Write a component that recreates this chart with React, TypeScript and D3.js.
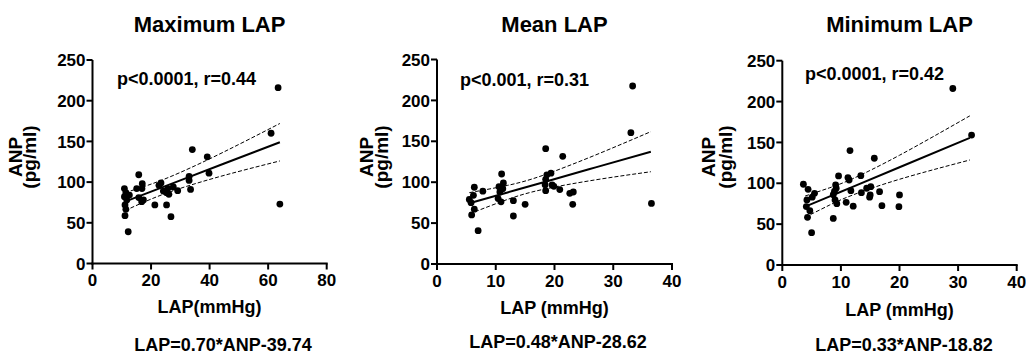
import React from "react";
import * as d3 from "d3";

// ---------- data ----------
const maxLapX = [61, 64, 63.4, 34.1, 39.2, 39.8, 33, 33, 33.5, 29.1, 27.6, 25.3, 25.7, 26.1, 25.3, 26.8, 21.3, 23.4, 22.7, 24.2, 15.8, 15.1, 17, 16.9, 17.4, 16.8, 15.8, 10.9, 11.4, 10.9, 11.7, 11.1, 11.4, 11.1, 12.2, 12.6];
const maxLapY = [160, 73, 216, 140, 131, 111, 107, 102, 91, 89.5, 94, 87, 92, 85, 72, 57.5, 72, 99, 96, 89, 109, 92, 98, 92, 78, 76, 81, 92, 87, 82, 78, 72, 66.6, 58.7, 39, 84];

const meanLapX = [33, 36.5, 33.3, 18.5, 21.4, 19.4, 18.7, 18.5, 18.4, 18.5, 19.6, 20.9, 22.6, 23.2, 23.1, 15, 13, 13, 11, 11.3, 10.55, 10.7, 10.4, 10.9, 7.8, 6.35, 6.2, 5.5, 5.8, 6.35, 5.9, 7, 11.2, 19.9];
const meanLapY = [160.5, 74, 217.6, 141, 131.6, 111, 109, 103.5, 97, 89.6, 96.6, 91, 86.4, 88, 73, 73, 77.4, 58.7, 110, 99, 94.5, 88, 80, 76, 89, 93.8, 84, 79, 75, 67, 60, 40.7, 92, 95];

const minLapX = [32.3, 29.1, 11.55, 15.7, 9.6, 11.2, 11.4, 13.4, 11.7, 13.5, 14.4, 15.1, 15, 14.9, 16.6, 17, 20, 19.9, 12.1, 10.9, 8.7, 9.1, 9.2, 8.9, 8.7, 9, 9.3, 5.5, 5.1, 4.4, 3.6, 4.2, 4.1, 4.7, 4.3, 5];
const minLapY = [159, 216, 140, 130.6, 109, 107, 104, 109.3, 91, 88.5, 93.9, 95.8, 85.7, 83, 89.7, 72.6, 85.7, 71.4, 72, 76.7, 57, 98, 94, 90, 86, 79.6, 75, 87.7, 83, 92.6, 98.8, 79.6, 71.5, 66.5, 58.4, 39.5];

// regression line and 95% CI bands
const maxFitX = [11.1, 20, 30, 45, 64];
const maxFit = [76, 88.3, 102.1, 122.8, 149];
const maxUpper = [87, 97.5, 111.9, 137.3, 172];
const maxLower = [65, 79.1, 92.3, 108.3, 126];

const meanFitX = [5.5, 12, 18, 27, 36.4];
const meanFit = [74.2, 87.5, 99.7, 118.1, 137.3];
const meanUpper = [87.2, 96.1, 108.3, 133.3, 161.8];
const meanLower = [61.2, 78.9, 91.1, 102.9, 112.8];

const minFitX = [3.9, 8, 12, 20, 32];
const minFit = [71.4, 83.7, 95.6, 119.6, 155.5];
const minUpper = [84.4, 94.3, 105.6, 134.3, 182.5];
const minLower = [58.4, 73.1, 85.6, 104.9, 128.5];

const yTicks = [0, 50, 100, 150, 200, 250];
const xTicksMax = [0, 20, 40, 60, 80];
const xTicksMean = [0, 10, 20, 30, 40];

const titles = ["Maximum LAP", "Mean LAP", "Minimum LAP"];
const xLabels = ["LAP(mmHg)", "LAP (mmHg)", "LAP (mmHg)"];
const stats = ["p<0.0001, r=0.44", "p<0.001, r=0.31", "p<0.0001, r=0.42"];
const equations = ["LAP=0.70*ANP-39.74", "LAP=0.48*ANP-28.62", "LAP=0.33*ANP-18.82"];

// ---------- layout ----------
const FONT = "'Liberation Sans', Arial, Helvetica, sans-serif";

type Panel = {
  x0: number; x1: number; yTop: number; yBot: number;
  xMax: number; xTicks: number[];
  xs: number[]; ys: number[];
  fitX: number[]; fit: number[]; upper: number[]; lower: number[];
  title: string; xLabel: string; stat: string; eq: string;
  titleY: number; statX: number; statY: number; xLabelY: number; eqX: number; eqY: number;
  anpX: number; pgX: number;
};

const panels: Panel[] = [
  {
    x0: 92.5, x1: 326.7, yTop: 60, yBot: 263.5, xMax: 80, xTicks: xTicksMax,
    xs: maxLapX, ys: maxLapY, fitX: maxFitX, fit: maxFit, upper: maxUpper, lower: maxLower,
    title: titles[0], xLabel: xLabels[0], stat: stats[0], eq: equations[0],
    titleY: 32, statX: 117, statY: 85, xLabelY: 313, eqX: 223, eqY: 351, anpX: 22, pgX: 36,
  },
  {
    x0: 437, x1: 672, yTop: 59.5, yBot: 264, xMax: 40, xTicks: xTicksMean,
    xs: meanLapX, ys: meanLapY, fitX: meanFitX, fit: meanFit, upper: meanUpper, lower: meanLower,
    title: titles[1], xLabel: xLabels[1], stat: stats[1], eq: equations[1],
    titleY: 32, statX: 460, statY: 86, xLabelY: 314, eqX: 558, eqY: 348, anpX: 373, pgX: 388,
  },
  {
    x0: 782.3, x1: 1016.7, yTop: 60.7, yBot: 265, xMax: 40, xTicks: xTicksMean,
    xs: minLapX, ys: minLapY, fitX: minFitX, fit: minFit, upper: minUpper, lower: minLower,
    title: titles[2], xLabel: xLabels[2], stat: stats[2], eq: equations[2],
    titleY: 32, statX: 805, statY: 80, xLabelY: 316, eqX: 904, eqY: 351, anpX: 715, pgX: 732,
  },
];

function PanelView({ p }: { p: Panel }) {
  const x = d3.scaleLinear().domain([0, p.xMax]).range([p.x0, p.x1]);
  const y = d3.scaleLinear().domain([0, 250]).range([p.yBot, p.yTop]);
  const mk = (vals: number[]) =>
    d3.line<number>().x((_, i) => x(p.fitX[i])).y((v) => y(v)).curve(d3.curveNatural)(vals) || "";
  const cx = (p.x0 + p.x1) / 2;
  const cy = 157;
  return (
    <g fontFamily={FONT} fontWeight="bold" fill="#000">
      <text x={cx} y={p.titleY} textAnchor="middle" fontSize={22}>{p.title}</text>
      {/* axes */}
      <line x1={p.x0} x2={p.x0} y1={p.yTop} y2={p.yBot + 1} stroke="#000" strokeWidth={2} />
      <line x1={p.x0 - 1} x2={p.x1 + 1} y1={p.yBot} y2={p.yBot} stroke="#000" strokeWidth={2} />
      {yTicks.map((t) => (
        <g key={"y" + t}>
          <line x1={p.x0 - 6} x2={p.x0} y1={y(t)} y2={y(t)} stroke="#000" strokeWidth={2} />
          <text x={p.x0 - 7} y={y(t)} dy="0.36em" textAnchor="end" fontSize={17}>{t}</text>
        </g>
      ))}
      {p.xTicks.map((t) => (
        <g key={"x" + t}>
          <line x1={x(t)} x2={x(t)} y1={p.yBot} y2={p.yBot + 6} stroke="#000" strokeWidth={2} />
          <text x={x(t)} y={p.yBot + 22.5} textAnchor="middle" fontSize={17}>{t}</text>
        </g>
      ))}
      {/* axis labels */}
      <text transform={`translate(${p.anpX},${cy}) rotate(-90)`} textAnchor="middle" fontSize={19}>ANP</text>
      <text transform={`translate(${p.pgX},${cy}) rotate(-90)`} textAnchor="middle" fontSize={19}>(pg/ml)</text>
      <text x={cx} y={p.xLabelY} textAnchor="middle" fontSize={18}>{p.xLabel}</text>
      {/* stats */}
      <text x={p.statX} y={p.statY} fontSize={18}>{p.stat}</text>
      <text x={p.eqX} y={p.eqY} textAnchor="middle" fontSize={18}>{p.eq}</text>
      {/* fit + CI */}
      <path d={mk(p.upper)} fill="none" stroke="#000" strokeWidth={1} strokeDasharray="4,2" />
      <path d={mk(p.lower)} fill="none" stroke="#000" strokeWidth={1} strokeDasharray="4,2" />
      <path d={mk(p.fit)} fill="none" stroke="#000" strokeWidth={2} />
      {/* points */}
      {p.xs.map((v, i) => (
        <circle key={i} cx={x(v)} cy={y(p.ys[i])} r={3.4} fill="#000" />
      ))}
    </g>
  );
}

export default function App() {
  return (
    <svg
      width={1026}
      height={357}
      viewBox="0 0 1026 357"
      style={{ position: "absolute", left: 0, top: 0, background: "#fff" }}
    >
      <rect width={1026} height={357} fill="#fff" />
      {panels.map((p, i) => (
        <PanelView key={i} p={p} />
      ))}
    </svg>
  );
}
